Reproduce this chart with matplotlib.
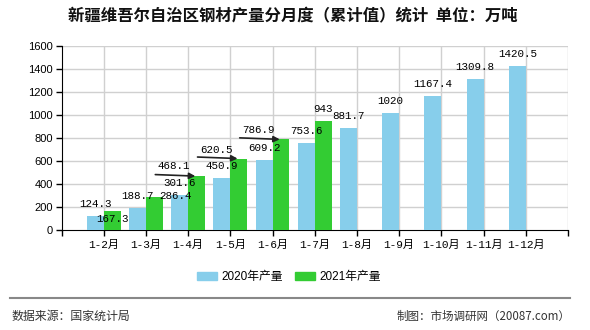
import matplotlib
matplotlib.use("Agg")
import matplotlib.pyplot as plt
from matplotlib.lines import Line2D
from matplotlib.patches import Patch
import numpy as np

categories = ["1-2月", "1-3月", "1-4月", "1-5月", "1-6月", "1-7月",
              "1-8月", "1-9月", "1-10月", "1-11月", "1-12月"]
values_2020 = [124.3, 188.7, 301.6, 450.9, 609.2, 753.6, 881.7, 1020, 1167.4, 1309.8, 1420.5]
values_2021 = [167.3, 286.4, 468.1, 620.5, 786.9, 943]
label_2020 = "2020年产量"
label_2021 = "2021年产量"
yticks = [0, 200, 400, 600, 800, 1000, 1200, 1400, 1600]
title = "新疆维吾尔自治区钢材产量分月度（累计值）统计  单位：万吨"
source_left = "数据来源：国家统计局"
source_right = "制图：市场调研网（20087.com）"

C20 = "#87CEEB"
C21 = "#33CC33"
CJK = ["Noto Sans CJK SC", "DejaVu Sans"]
MONO = ["Liberation Mono", "Noto Sans CJK SC"]
SANS = ["Liberation Sans", "Noto Sans CJK SC"]

fig = plt.figure(figsize=(5.9, 3.3), dpi=100)
W, H = 590, 330
L, R, T, B = 61.5, 568, 45.7, 230
ax = fig.add_axes([L / W, 1 - B / H, (R - L) / W, (B - T) / H])

x = np.arange(len(categories))
bw = 0.4
ax.bar(x - bw / 2, values_2020, width=bw, color=C20, zorder=3)
x21 = x[:len(values_2021)]
ax.bar(x21 + bw / 2, values_2021, width=bw, color=C21, zorder=3)

ax.set_xlim(-1, len(categories))
ax.set_ylim(0, 1600)
ax.set_yticks(yticks)
ax.set_yticklabels([str(v) for v in yticks], family=SANS, fontsize=8)
ax.set_xticks(list(x) + [-1, len(categories)])
ax.set_xticklabels(categories + ["", ""], family=MONO, fontsize=8)
ax.tick_params(axis="both", length=4, width=1, color="black", direction="out")
ax.tick_params(axis="x", pad=3)
ax.tick_params(axis="y", pad=2)

for v in yticks[1:]:
    ax.axhline(v, color="#d0d0d0", lw=1, zorder=1)
for xi in x:
    ax.axvline(xi, color="#d0d0d0", lw=1, zorder=1)

for s in ["top", "right"]:
    ax.spines[s].set_visible(False)
ax.axvline(len(categories), color="#d0d0d0", lw=1, zorder=1)
ax.spines["left"].set_color("black")
ax.spines["bottom"].set_color("black")

fs = 7.8
# 2020 labels
for xi, v in zip(x, values_2020):
    ax.annotate(f"{v:g}", xy=(xi - bw / 2, v), xytext=(0, 12), textcoords="offset pixels",
                ha="center", va="center", family=MONO, fontsize=fs, zorder=5)

# 2021 labels with custom offsets (pixels)
offsets_2021 = [(0, -8), (21, 1), (-23, 10), (-22.5, 9), (-22.5, 9), (0, 12)]
arrows_2021 = [False, False, True, True, True, False]
for xi, v, off, arr in zip(x21, values_2021, offsets_2021, arrows_2021):
    ax.annotate(f"{v:g}", xy=(xi + bw / 2, v), xytext=off, textcoords="offset pixels",
                ha="center", va="center", family=MONO, fontsize=fs, zorder=5)
    if arr:
        ax.annotate("", xy=(xi + bw / 2 - 0.03, v), xytext=(-40, 1.5), textcoords="offset pixels",
                    arrowprops=dict(arrowstyle="-|>", color="#222222", lw=1.2,
                                    mutation_scale=9, shrinkA=0, shrinkB=0),
                    zorder=6)

fig.text(68 / W, 1 - 16 / H, title, family=CJK, fontsize=11.8, fontweight="bold",
         ha="left", va="center", color="#111111")

handles = [Patch(color=C20, label=label_2020), Patch(color=C21, label=label_2021)]
fig.legend(handles=handles, loc="center", bbox_to_anchor=(289 / W, 1 - 277 / H),
           ncol=2, frameon=False, prop={"family": SANS, "size": 8.5},
           handlelength=1.7, handleheight=0.7, columnspacing=1.0, handletextpad=0.4)

fig.add_artist(Line2D([10 / W, 570 / W], [1 - 298 / H, 1 - 298 / H], color="#888888",
                      lw=1.5, transform=fig.transFigure))
fig.text(12 / W, 1 - 316 / H, source_left, family=CJK, fontsize=8.6, ha="left",
         va="center", color="#333333")
fig.text(570 / W, 1 - 316 / H, source_right, family=CJK, fontsize=8.3, ha="right",
         va="center", color="#333333")

fig.savefig("out.png", dpi=100)
